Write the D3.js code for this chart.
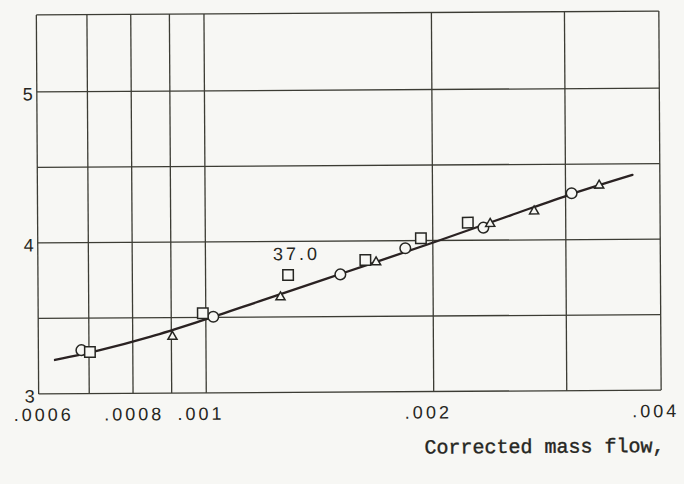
<!DOCTYPE html>
<html><head><meta charset="utf-8">
<script src="https://cdn.jsdelivr.net/npm/d3@7"></script>
<style>
html,body{margin:0;padding:0;background:#f7f7f4;}
svg{display:block;}
</style></head><body>
<svg id="chart" width="684" height="484"></svg>
<script>
// Measured points, corrected mass flow (log axis) against the plotted ratio
const circleFlow    = [0.000684, 0.001023, 0.001508, 0.001839, 0.002334, 0.003056];
const circleValue   = [3.288, 3.504, 3.779, 3.950, 4.083, 4.307];
const squareFlow    = [0.000702, 0.000991, 0.001286, 0.001628, 0.001929, 0.002226];
const squareValue   = [3.275, 3.528, 3.777, 3.873, 4.015, 4.117];
const triangleFlow  = [0.000903, 0.001256, 0.001682, 0.002383, 0.002725, 0.003324];
const triangleValue = [3.377, 3.634, 3.862, 4.112, 4.193, 4.361];

// Faired curve through the data
const curveFlow  = [0.000631, 0.000726, 0.000845, 0.000985, 0.001182, 0.001508, 0.002021, 0.002532, 0.003056, 0.00368];
const curveValue = [3.224, 3.289, 3.375, 3.477, 3.607, 3.782, 3.993, 4.162, 4.302, 4.426];

// Axes
const xTickValues = [0.0006, 0.0008, 0.001, 0.002, 0.004];
const xTickLabels = [".0006", ".0008", ".001", ".002", ".004"];
const xGridValues = [0.0006, 0.0007, 0.0008, 0.0009, 0.001, 0.002, 0.003, 0.004];
const yTickValues = [3, 4, 5];
const yGridValues = [3, 3.5, 4, 4.5, 5, 5.5];
const xTitle = "Corrected mass flow,";

// Annotated point (square series)
const noteSeriesIndex = 2;
const noteText = "37.0";

const ink = "#262622";
const gridInk = "#3c3c34";
const paper = "#f7f7f4";

const svg = d3.select("#chart");
svg.append("rect").attr("width", 684).attr("height", 484).attr("fill", paper);

const plotLeft = 37.5, plotRight = 660, plotTop = 14.5, plotBottom = 392;
const x = d3.scaleLog().domain([0.0006, 0.004]).range([plotLeft, plotRight]);
const y = d3.scaleLinear().domain([3, 5.5]).range([plotBottom, plotTop]);

// Slight tilt of the whole sheet
const g = svg.append("g")
  .attr("transform", `rotate(-0.35, ${(plotLeft + plotRight) / 2}, ${(plotTop + plotBottom) / 2})`);

// Grid
g.append("g").selectAll("line").data(xGridValues).join("line")
  .attr("x1", d => x(d)).attr("x2", d => x(d))
  .attr("y1", y(5.5) - 1.5).attr("y2", y(3))
  .attr("stroke", gridInk).attr("stroke-width", 1.3);
g.append("g").selectAll("line").data(yGridValues).join("line")
  .attr("x1", x(0.0006)).attr("x2", x(0.004))
  .attr("y1", d => y(d) - (d === 5.5 ? 1.5 : 0)).attr("y2", d => y(d) - (d === 5.5 ? 1.5 : 0))
  .attr("stroke", gridInk).attr("stroke-width", 1.3);

// Tick labels
const tickFont = "'Liberation Sans', Arial, sans-serif";
g.append("g").selectAll("text").data(xTickValues).join("text")
  .attr("x", (d, i) => x(d) - (i === 0 ? 25 : 29)).attr("y", y(3) + 27)
  .attr("font-family", tickFont).attr("font-size", 18).attr("letter-spacing", 3)
  .attr("fill", ink)
  .text((d, i) => xTickLabels[i]);
g.append("g").selectAll("text").data(yTickValues).join("text")
  .attr("x", x(0.0006) - 4).attr("y", d => y(d) + 8.5)
  .attr("text-anchor", "end")
  .attr("font-family", tickFont).attr("font-size", 18)
  .attr("fill", ink)
  .text(d => d);

// Axis title
g.append("text")
  .attr("x", 423).attr("y", 454)
  .attr("font-family", "'Liberation Mono', 'Courier New', monospace")
  .attr("font-size", 20).attr("fill", ink)
  .attr("stroke", ink).attr("stroke-width", 0.4)
  .text(xTitle);

// Faired curve
const line = d3.line().x(d => x(d[0])).y(d => y(d[1])).curve(d3.curveMonotoneX);
g.append("path")
  .datum(curveFlow.map((f, i) => [f, curveValue[i]]))
  .attr("d", line)
  .attr("fill", "none").attr("stroke", "#2a2222").attr("stroke-width", 2.3)
  .attr("stroke-linecap", "round");

// Markers
const markStyle = sel => sel.attr("fill", paper).attr("stroke", ink).attr("stroke-width", 1.5);

markStyle(g.append("g").selectAll("circle")
  .data(circleFlow.map((f, i) => [f, circleValue[i]])).join("circle")
  .attr("cx", d => x(d[0])).attr("cy", d => y(d[1])).attr("r", 5.3));

const sq = 10.5;
const squares = squareFlow.map((f, i) => [f, squareValue[i]]);
markStyle(g.append("g").selectAll("rect").data(squares).join("rect")
  .attr("x", d => x(d[0]) - sq / 2).attr("y", d => y(d[1]) - sq / 2)
  .attr("width", sq).attr("height", sq));

const tri = d3.symbol().type(d3.symbolTriangle).size(36);
markStyle(g.append("g").selectAll("path").data(triangleFlow.map((f, i) => [f, triangleValue[i]])).join("path")
  .attr("transform", d => `translate(${x(d[0])},${y(d[1]) + 0.5})`)
  .attr("d", tri));

// Note beside the annotated square
const noted = squares[noteSeriesIndex];
g.append("text")
  .attr("x", x(noted[0]) - 15).attr("y", y(noted[1]) - 15)
  .attr("font-family", tickFont).attr("font-size", 18).attr("letter-spacing", 3)
  .attr("fill", ink)
  .text(noteText);
</script>
</body></html>
